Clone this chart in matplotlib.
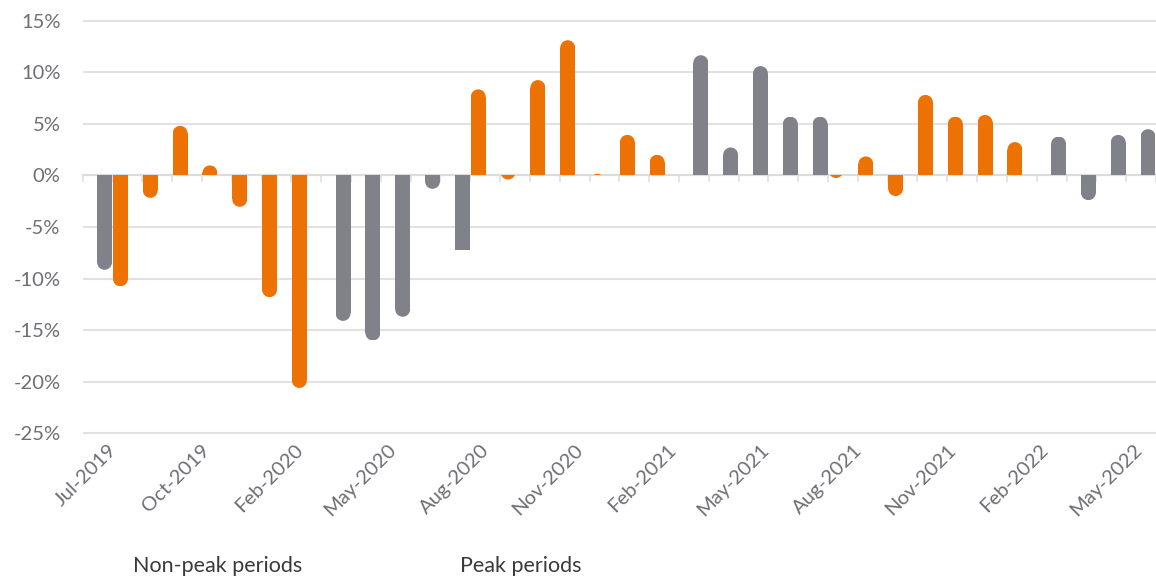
import numpy as np
import matplotlib
matplotlib.use("Agg")
import matplotlib.pyplot as plt
from matplotlib.patches import Ellipse, Rectangle
from matplotlib.transforms import blended_transform_factory

plt.rcParams['font.family'] = ['Lato', 'DejaVu Sans']

nan = np.nan
# category index (monthly slots), 37 slots; slot 0 sits on the left axis edge
categories = list(range(37))
non_peak = [nan, -9.15, nan, nan, nan, nan, nan, nan, nan,
            -14.1, -16.0, -13.7, -1.3, -7.25, nan, nan, nan, nan, nan, nan, nan,
            11.65, 2.71, 10.6, 5.7, 5.7, nan, nan, nan, nan, nan, nan, nan,
            3.77, -2.4, 3.93, 4.48]
peak = [nan, -10.75, -2.17, 4.8, 0.97, -3.04, -11.8, -20.6, nan,
        nan, nan, nan, nan, 8.34, -0.4, 9.24, 13.1, 0.15, 3.93, 2.0, nan,
        nan, nan, nan, nan, -0.25, 1.84, -2.0, 7.8, 5.7, 5.86, 3.23, nan,
        nan, nan, nan, nan]
tick_labels = ["Jul-2019", "Oct-2019", "Feb-2020", "May-2020", "Aug-2020", "Nov-2020",
               "Feb-2021", "May-2021", "Aug-2021", "Nov-2021", "Feb-2022", "May-2022"]
y_ticks = [-25, -20, -15, -10, -5, 0, 5, 10, 15]
series_names = ["Non-peak periods", "Peak periods"]

GRAY = "#81818a"
ORANGE = "#ee7203"
GRID = "#e2e2e2"
TXT = "#6e6e74"

W, H = 1156, 576
fig = plt.figure(figsize=(W / 100, H / 100), dpi=100)
ax = fig.add_axes([82.7 / W, 1 - 438.5 / H, 1 - 82.7 / W, (438.5 - 15.5) / H])
ax.set_xlim(0, 35.85)
ax.set_ylim(-25.5, 15.5)

for s in ["top", "right", "left"]:
    ax.spines[s].set_visible(False)
ax.spines["bottom"].set_position(("data", 0))
ax.spines["bottom"].set_color("#dcdcdc")
ax.spines["bottom"].set_linewidth(1.5)
ax.spines["bottom"].set_zorder(1.5)

ax.set_yticks(y_ticks)
ax.set_yticklabels([f"{v}%" for v in y_ticks])
ax.yaxis.grid(True, color=GRID, linewidth=1.5, zorder=0)
ax.set_axisbelow(True)
ax.tick_params(axis="y", length=0, pad=16, labelsize=14.5, labelcolor=TXT)

ax.set_xticks(categories)
ax.tick_params(axis="x", length=5, width=1.1, color="#dcdcdc", labelbottom=False, direction="out")

bar_w = 0.5
off = 0.267
fig.canvas.draw()
px_x = ax.transData.transform((1, 0))[0] - ax.transData.transform((0, 0))[0]
px_y = ax.transData.transform((0, 1))[1] - ax.transData.transform((0, 0))[1]
r = (bar_w / 2) * px_x / px_y

flat = {(0, 13)}  # series 0 (non-peak) slot 13 is drawn with a square end


def draw_bar(x, v, color, rounded=True):
    if np.isnan(v):
        return
    if not rounded:
        ax.bar(x, v, width=bar_w, color=color, linewidth=0, zorder=2)
        return
    sign = 1 if v >= 0 else -1
    body = v - sign * r if abs(v) > r else 0.0
    if body != 0:
        ax.bar(x, body, width=bar_w, color=color, linewidth=0, zorder=2)
    e = Ellipse((x, v - sign * r), bar_w, 2 * r, facecolor=color, linewidth=0, zorder=2)
    ax.add_patch(e)
    clip = Rectangle((x - bar_w / 2, min(0, v)), bar_w, abs(v), transform=ax.transData)
    e.set_clip_path(clip)


for si, (vals, col, sh) in enumerate([(non_peak, GRAY, -off), (peak, ORANGE, off)]):
    for c, v in zip(categories, vals):
        draw_bar(c + sh, v, col, rounded=(si, c) not in flat)

# rotated date labels along the bottom
trans = blended_transform_factory(ax.transData, ax.transAxes)
label_step = 3.125
for k, lab in enumerate(tick_labels):
    ax.text(0.85 + label_step * k, -0.006, lab, transform=trans, rotation=45,
            rotation_mode="anchor", ha="right", va="top", fontsize=14.5,
            color=TXT)

fig.text(133 / W, 1 - 566 / H, series_names[0], ha="left", va="center", fontsize=15.5, color="#3a3a3a")
fig.text(460 / W, 1 - 566 / H, series_names[1], ha="left", va="center", fontsize=15.5, color="#3a3a3a")

fig.savefig("out.png", dpi=100)
